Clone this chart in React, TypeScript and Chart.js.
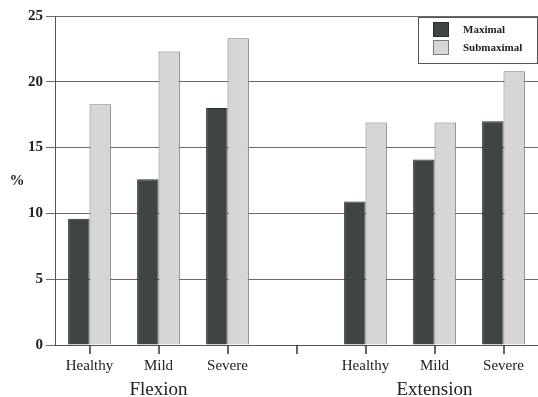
import React, { useEffect, useRef } from "react";
import { Chart, registerables } from "chart.js";

Chart.register(...registerables);

const categories = ["Healthy", "Mild", "Severe", "", "Healthy", "Mild", "Severe"];
const maximal = [9.6, 12.6, 18.0, null, 10.9, 14.1, 17.0];
const submaximal = [18.3, 22.3, 23.3, null, 16.9, 16.9, 20.8];
const groupLabels = ["Flexion", "Extension"];
const groupCenterIndex = [1, 5];
const seriesNames = ["Maximal", "Submaximal"];
const yTicks = [0, 5, 10, 15, 20, 25];

const SERIF = "'Liberation Serif', 'Times New Roman', serif";
const DARK = "#3f4545";
const LIGHT = "#d6d6d6";

const extrasPlugin = {
  id: "extras",
  afterDraw(chart: any) {
    const ctx = chart.ctx;
    const x = chart.scales.x;
    const area = chart.chartArea;
    ctx.save();
    // x tick marks at category centres
    ctx.strokeStyle = "#333";
    ctx.lineWidth = 1.5;
    for (let i = 0; i < categories.length; i++) {
      const px = Math.round(x.getPixelForValue(i));
      ctx.beginPath();
      ctx.moveTo(px, area.bottom);
      ctx.lineTo(px, area.bottom + 9);
      ctx.stroke();
    }
    // group labels
    ctx.fillStyle = "#222";
    ctx.font = `19px ${SERIF}`;
    ctx.textAlign = "center";
    ctx.textBaseline = "alphabetic";
    groupLabels.forEach((g, i) => {
      ctx.fillText(g, x.getPixelForValue(groupCenterIndex[i]), 395);
    });
    // y label
    ctx.font = `bold 15px ${SERIF}`;
    ctx.textBaseline = "middle";
    ctx.fillText("%", 17, 181);
    // legend
    ctx.lineWidth = 1;
    ctx.strokeStyle = "#555";
    ctx.strokeRect(418.5, 17.5, 119, 46);
    const ds = chart.data.datasets;
    ctx.textAlign = "left";
    ctx.font = `bold 11px ${SERIF}`;
    ds.forEach((d: any, i: number) => {
      const top = 22 + i * 18;
      ctx.fillStyle = d.backgroundColor;
      ctx.fillRect(433, top, 16, 15);
      ctx.strokeStyle = d.borderColor;
      ctx.strokeRect(433.5, top + 0.5, 15, 14);
      ctx.fillStyle = "#222";
      ctx.fillText(d.label, 463, top + 8);
    });
    ctx.restore();
  },
};

export default function App() {
  const ref = useRef<HTMLCanvasElement>(null);
  useEffect(() => {
    document.body.style.margin = "0";
    const chart = new Chart(ref.current!, {
      type: "bar",
      data: {
        labels: categories,
        datasets: [
          {
            label: seriesNames[0],
            data: maximal,
            backgroundColor: DARK,
            borderColor: "#2a2e2e",
            borderWidth: 1,
          },
          {
            label: seriesNames[1],
            data: submaximal,
            backgroundColor: LIGHT,
            borderColor: "#7a7a7a",
            borderWidth: 1,
          },
        ],
      },
      options: {
        responsive: false,
        animation: false,
        layout: { padding: { top: 16, left: 0, right: 0, bottom: 0 } },
        datasets: { bar: { categoryPercentage: 0.62, barPercentage: 1 } },
        plugins: { legend: { display: false }, tooltip: { enabled: false } },
        scales: {
          x: {
            afterFit(s: any) {
              s.height = 52;
            },
            grid: {
              display: false,
              drawOnChartArea: false,
              drawTicks: false,
            },
            border: { display: true, color: "#555" },
            ticks: {
              color: "#222",
              font: { family: SERIF, size: 15 },
              padding: 12,
              maxRotation: 0,
              autoSkip: false,
            },
          },
          y: {
            min: 0,
            max: 25,
            afterFit(s: any) {
              s.width = 55;
            },
            afterBuildTicks(s: any) {
              s.ticks = yTicks.map((v) => ({ value: v }));
            },
            grid: { color: "#6a6a6a", tickLength: 9, lineWidth: 1 },
            border: { display: true, color: "#555" },
            ticks: {
              color: "#222",
              font: { family: SERIF, size: 15, weight: "bold" },
              padding: 3,
            },
          },
        },
      },
      plugins: [extrasPlugin],
    });
    return () => chart.destroy();
  }, []);
  return (
    <div style={{ position: "fixed", left: 0, top: 0, width: 538, height: 397, background: "#fff" }}>
      <canvas ref={ref} width={538} height={397} />
    </div>
  );
}
